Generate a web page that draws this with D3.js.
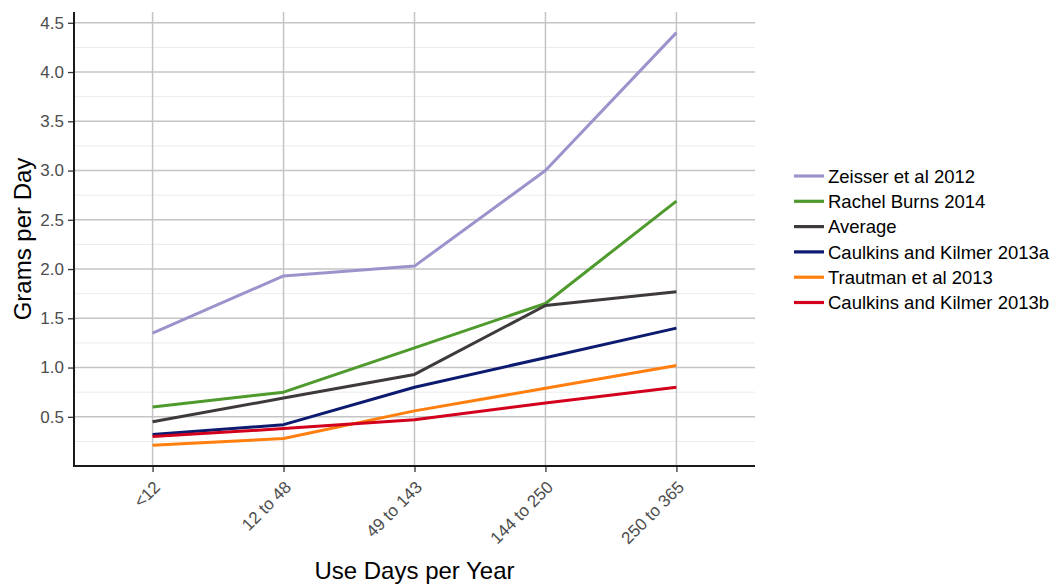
<!DOCTYPE html>
<html>
<head>
<meta charset="utf-8">
<script src="https://cdn.jsdelivr.net/npm/d3@7"></script>
<style>
  html, body { margin: 0; padding: 0; background: #fff; }
  svg { display: block; font-family: "Liberation Sans", Arial, sans-serif; }
</style>
</head>
<body>
<svg id="chart" width="1053" height="585"></svg>
<script>
const categories = ["<12", "12 to 48", "49 to 143", "144 to 250", "250 to 365"];
const seriesNames = ["Zeisser et al 2012", "Rachel Burns 2014", "Average", "Caulkins and Kilmer 2013a", "Trautman et al 2013", "Caulkins and Kilmer 2013b"];
const seriesColors = ["#9D93CC", "#4E9A2C", "#3E3A3B", "#0C1A70", "#FF7F0E", "#D2001C"];
const zeisser = [1.35, 1.93, 2.03, 3.00, 4.40];
const burns = [0.60, 0.75, 1.20, 1.65, 2.69];
const average = [0.45, 0.69, 0.93, 1.63, 1.77];
const caulkinsA = [0.32, 0.42, 0.80, 1.10, 1.40];
const trautman = [0.21, 0.28, 0.56, 0.79, 1.02];
const caulkinsB = [0.30, 0.38, 0.47, 0.64, 0.80];
const yTicks = [0.5, 1.0, 1.5, 2.0, 2.5, 3.0, 3.5, 4.0, 4.5];
const yMinor = [0.25, 0.75, 1.25, 1.75, 2.25, 2.75, 3.25, 3.75, 4.25];

const seriesValues = [zeisser, burns, average, caulkinsA, trautman, caulkinsB];

const svg = d3.select("#chart");
const pL = 74, pR = 755, pT = 12, pB = 466;

const x = d3.scalePoint().domain(categories).range([pL, pR]).padding(0.6);
const allVals = seriesValues.flat();
const lo = d3.min(allVals), hi = d3.max(allVals);
const pad = (hi - lo) * 0.05;
const y = d3.scaleLinear().domain([lo - pad, hi + pad]).range([pB, pT]);

// minor grid
svg.append("g").selectAll("line").data(yMinor).join("line")
  .attr("x1", pL).attr("x2", pR)
  .attr("y1", d => y(d)).attr("y2", d => y(d))
  .attr("stroke", "#EBEBEB").attr("stroke-width", 1);

// major grid horizontal
svg.append("g").selectAll("line").data(yTicks).join("line")
  .attr("x1", pL).attr("x2", pR)
  .attr("y1", d => y(d)).attr("y2", d => y(d))
  .attr("stroke", "#C4C4C4").attr("stroke-width", 1.5);

// major grid vertical
svg.append("g").selectAll("line").data(categories).join("line")
  .attr("x1", d => x(d)).attr("x2", d => x(d))
  .attr("y1", pT).attr("y2", pB)
  .attr("stroke", "#C4C4C4").attr("stroke-width", 1.5);

// lines
const line = d3.line().x((d, i) => x(categories[i])).y(d => y(d));
svg.append("g").selectAll("path").data(seriesValues).join("path")
  .attr("d", d => line(d))
  .attr("fill", "none")
  .attr("stroke", (d, i) => seriesColors[i])
  .attr("stroke-width", 3)
  .attr("stroke-linejoin", "round");

// y axis
const yAxis = d3.axisLeft(y).tickValues(yTicks).tickFormat(d3.format(".1f")).tickSize(6).tickPadding(4);
const gy = svg.append("g").attr("transform", `translate(${pL},0)`).call(yAxis);
gy.select(".domain").remove();
gy.selectAll(".tick line").attr("stroke", "#333").attr("stroke-width", 1.3);
gy.selectAll(".tick text").attr("fill", "#4D4D4D").style("font-size", "17px").style("font-family", "Liberation Sans, Arial, sans-serif");
svg.append("line").attr("x1", pL).attr("x2", pL).attr("y1", pT).attr("y2", pB + 1)
  .attr("stroke", "#1A1A1A").attr("stroke-width", 2);

// x axis
const xAxis = d3.axisBottom(x).tickSize(6).tickSizeOuter(0);
const gx = svg.append("g").attr("transform", `translate(0,${pB})`).call(xAxis);
gx.select(".domain").remove();
gx.selectAll(".tick line").attr("stroke", "#333").attr("stroke-width", 1.3);
gx.selectAll(".tick text")
  .attr("fill", "#4D4D4D").style("font-size", "17px").style("font-family", "Liberation Sans, Arial, sans-serif")
  .attr("text-anchor", "end")
  .attr("transform", "translate(4,18) rotate(-45)")
  .attr("y", 0).attr("dy", "0.35em");
svg.append("line").attr("x1", pL - 1).attr("x2", pR).attr("y1", pB).attr("y2", pB)
  .attr("stroke", "#1A1A1A").attr("stroke-width", 2);

// axis titles
svg.append("text").attr("x", (pL + pR) / 2).attr("y", 579)
  .attr("text-anchor", "middle").style("font-size", "24px").attr("fill", "#000")
  .text("Use Days per Year");
svg.append("text")
  .attr("transform", `translate(31,${(pT + pB) / 2}) rotate(-90)`)
  .attr("text-anchor", "middle").style("font-size", "24px").attr("fill", "#000")
  .text("Grams per Day");

// legend
const leg = svg.append("g").attr("transform", "translate(794,176)");
const items = leg.selectAll("g").data(seriesNames).join("g")
  .attr("transform", (d, i) => `translate(0,${i * 25.3})`);
items.append("line").attr("x1", 0).attr("x2", 30).attr("y1", 0).attr("y2", 0)
  .attr("stroke", (d, i) => seriesColors[i]).attr("stroke-width", 3.2);
items.append("text").attr("x", 34).attr("y", 0).attr("dy", "0.36em")
  .style("font-size", "18.5px").attr("fill", "#000").text(d => d);
</script>
</body>
</html>
